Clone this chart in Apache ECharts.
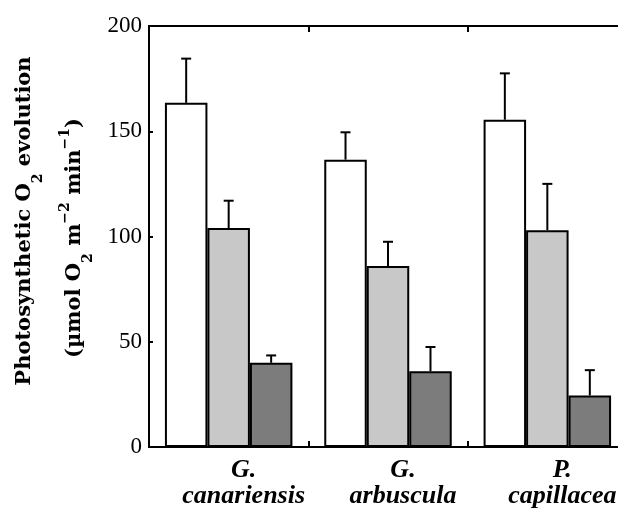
<!DOCTYPE html>
<html>
<head>
<meta charset="utf-8">
<script src="https://cdn.jsdelivr.net/npm/echarts@6/dist/echarts.min.js"></script>
<style>
  html, body { margin: 0; padding: 0; background: #fff; }
  #chart { width: 618px; height: 510px; }
</style>
</head>
<body>
<div id="chart"></div>
<script>
// species (two-line labels)
const categories = ['G.\ncanariensis', 'G.\narbuscula', 'P.\ncapillacea'];
// mean O2 evolution for the three treatments
const whiteVals = [163.5, 136.5, 155.5];
const lightVals = [104, 86, 103];
const darkVals = [40, 36, 24.5];
// upper error bars
const whiteErr = [21, 13, 22];
const lightErr = [13, 11.5, 22];
const darkErr = [3.5, 11.5, 12];
const yTicks = [0, 50, 100, 150, 200];

const SERIF = '"Liberation Serif", "Times New Roman", serif';
const WIDE_SERIF = '"DejaVu Serif", serif';
const colors = ['#ffffff', '#c8c8c8', '#7c7c7c'];
const GAP = 0.2; // barCategoryGap

function barSeries(name, data, color) {
  return {
    name: name,
    type: 'bar',
    data: data,
    barGap: '0%',
    barCategoryGap: '20%',
    itemStyle: { color: color, borderColor: '#000', borderWidth: 2 },
    emphasis: { disabled: true },
    z: 2
  };
}

// error bar drawn next to bar k (0,1,2) of a group
function errSeries(vals, errs, k) {
  return {
    type: 'custom',
    data: vals.map((v, i) => [i, v, errs[i]]),
    encode: { x: 0, y: 1 },
    z: 3,
    silent: true,
    renderItem: function (params, api) {
      const v = api.value(1);
      const e = api.value(2);
      const base = api.coord([api.value(0), v]);
      const top = api.coord([api.value(0), v + e]);
      const bw = api.size([1, 0])[0] * (1 - GAP) / 3;
      const x = base[0] + (k - 1) * bw;
      const st = { stroke: '#000', lineWidth: 2 };
      return {
        type: 'group',
        children: [
          { type: 'line', shape: { x1: x, y1: base[1], x2: x, y2: top[1] }, style: st },
          { type: 'line', shape: { x1: x - 5, y1: top[1], x2: x + 5, y2: top[1] }, style: st }
        ]
      };
    }
  };
}

const chart = echarts.init(document.getElementById('chart'), null, { renderer: 'canvas' });

const titleRich = {
  m: { fontFamily: WIDE_SERIF, fontSize: 21, fontWeight: 'bold', lineHeight: 26, fill: '#000' },
  sub: { fontFamily: WIDE_SERIF, fontSize: 14, fontWeight: 'bold', lineHeight: 14, padding: [26, 0, 0, 0], fill: '#000' },
  sup: { fontFamily: WIDE_SERIF, fontSize: 14, fontWeight: 'bold', lineHeight: 14, padding: [0, 0, 20, 0], fill: '#000' }
};

chart.setOption({
  animation: false,
  backgroundColor: '#fff',
  grid: {
    left: 149, top: 26, bottom: 63, width: 478,
    outerBoundsMode: 'none',
    show: true, borderColor: '#000', borderWidth: 2, backgroundColor: 'transparent'
  },
  xAxis: [
    {
      type: 'category',
      data: categories,
      position: 'bottom',
      axisLine: { show: false },
      axisTick: { show: true, inside: true, length: 6, lineStyle: { color: '#000', width: 2 } },
      axisLabel: {
        interval: 0,
        color: '#000', fontFamily: SERIF, fontSize: 26, fontWeight: 'bold', fontStyle: 'italic',
        lineHeight: 26, margin: 10, padding: [0, 0, 0, 30]
      }
    },
    {
      type: 'category',
      data: categories,
      position: 'top',
      axisLine: { show: false },
      axisTick: { show: true, inside: true, length: 6, lineStyle: { color: '#000', width: 2 } },
      axisLabel: { show: false }
    }
  ],
  yAxis: {
    type: 'value',
    min: yTicks[0],
    max: yTicks[yTicks.length - 1],
    interval: 50,
    axisLine: { show: false },
    splitLine: { show: false },
    axisTick: { show: true, inside: true, length: 4, lineStyle: { color: '#000', width: 2 } },
    axisLabel: { color: '#000', fontFamily: SERIF, fontSize: 23, margin: 7 }
  },
  graphic: [
    {
      type: 'text', x: 25, y: 221, rotation: Math.PI / 2,
      style: {
        text: '{m|Photosynthetic O}{sub|2}{m| evolution}',
        rich: titleRich, align: 'center', verticalAlign: 'middle'
      }
    },
    {
      type: 'text', x: 75, y: 238, rotation: Math.PI / 2,
      style: {
        text: '{m|(µmol O}{sub|2}{m| m}{sup|−2}{m| min}{sup|−1}{m|)}',
        rich: titleRich, align: 'center', verticalAlign: 'middle'
      }
    }
  ],
  series: [
    barSeries('white', whiteVals, colors[0]),
    barSeries('light', lightVals, colors[1]),
    barSeries('dark', darkVals, colors[2]),
    errSeries(whiteVals, whiteErr, 0),
    errSeries(lightVals, lightErr, 1),
    errSeries(darkVals, darkErr, 2)
  ]
});
</script>
</body>
</html>
